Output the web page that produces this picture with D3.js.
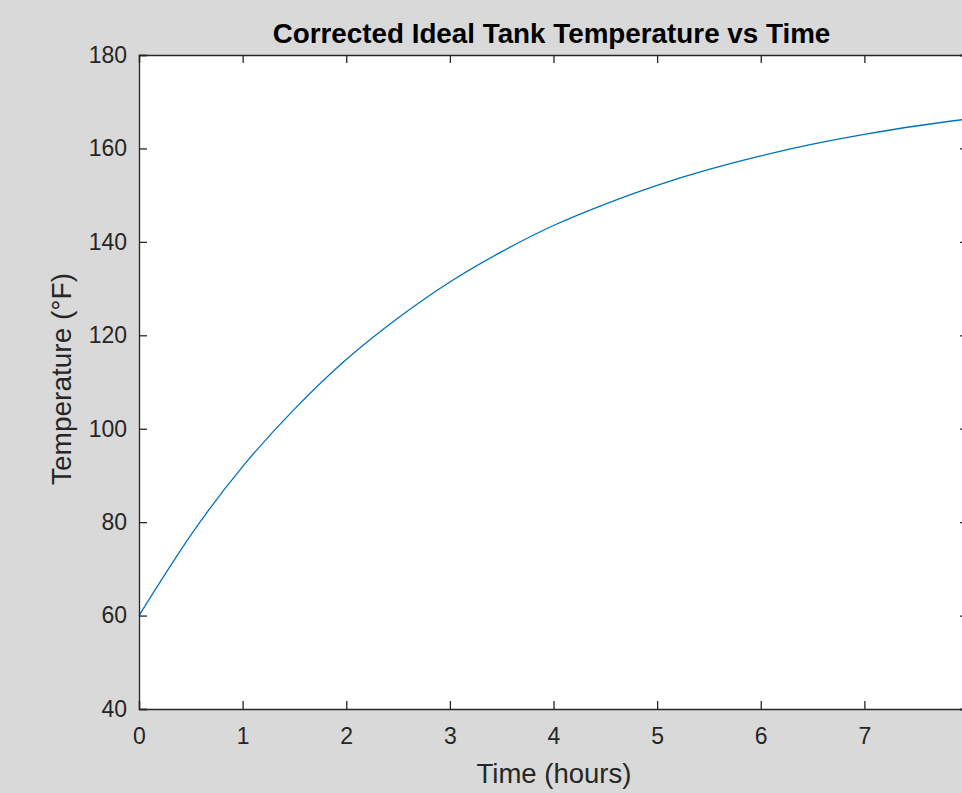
<!DOCTYPE html>
<html><head><meta charset="utf-8">
<script src="https://cdn.jsdelivr.net/npm/d3@7"></script>
<style>html,body{margin:0;padding:0;background:#d9d9d9;overflow:hidden}</style>
</head><body>
<svg id="c" width="962" height="793"></svg>
<script>
// Data (hours, °F)
const timeHours = [0, 0.5, 1, 1.5, 2, 2.5, 3, 3.5, 4, 4.5, 5, 5.5, 6, 6.5, 7, 7.5, 8];
const tempF = [60, 77.2, 91.9, 104.2, 114.8, 123.7, 131.4, 137.9, 143.5, 148.1, 152.1, 155.5, 158.4, 160.9, 163.0, 164.8, 166.3];
const xTicks = [0, 1, 2, 3, 4, 5, 6, 7];
const yTicks = [40, 60, 80, 100, 120, 140, 160, 180];
const titleText = "Corrected Ideal Tank Temperature vs Time";
const xLabelText = "Time (hours)";
const yLabelText = "Temperature (°F)";

const svg = d3.select("#c");
const mLeft = 139, mRight = 968, mTop = 55, mBottom = 709;
const x = d3.scaleLinear().domain([0, 8]).range([mLeft, mRight]);
const y = d3.scaleLinear().domain([40, 180]).range([mBottom, mTop]);
const axisColor = "#262626";
const font = "'Liberation Sans', Arial, Helvetica, sans-serif";

svg.append("rect").attr("width", 962).attr("height", 793).attr("fill", "#d9d9d9");
svg.append("rect").attr("x", mLeft).attr("y", mTop).attr("width", mRight - mLeft).attr("height", mBottom - mTop).attr("fill", "#ffffff");

const data = timeHours.map((t, i) => ({t, v: tempF[i]}));
svg.append("path").datum(data)
  .attr("fill", "none").attr("stroke", "#0072BD").attr("stroke-width", 1.3)
  .attr("d", d3.line().x(d => x(d.t)).y(d => y(d.v)).curve(d3.curveNatural));

const tl = 8;
const gx = svg.append("g").attr("transform", `translate(0,${mBottom})`)
  .call(d3.axisBottom(x).tickValues(xTicks).tickSize(-tl).tickPadding(19).tickFormat(d3.format("d")));
const gxt = svg.append("g").attr("transform", `translate(0,${mTop})`)
  .call(d3.axisTop(x).tickValues(xTicks).tickSize(-tl).tickFormat(""));
const gy = svg.append("g").attr("transform", `translate(${mLeft},0)`)
  .call(d3.axisLeft(y).tickValues(yTicks).tickSize(-tl).tickPadding(12).tickFormat(d3.format("d")));
const gyr = svg.append("g").attr("transform", `translate(${mRight},0)`)
  .call(d3.axisRight(y).tickValues(yTicks).tickSize(-tl).tickFormat(""));

[gx, gxt, gy, gyr].forEach(g => {
  g.select(".domain").attr("stroke", axisColor).attr("stroke-width", 1.3);
  g.selectAll(".tick line").attr("stroke", axisColor).attr("stroke-width", 1.3);
  g.selectAll("text").attr("fill", axisColor).attr("font-family", font).attr("font-size", 23);
});

svg.append("text").attr("x", (mLeft + mRight) / 2 - 2).attr("y", 43)
  .attr("text-anchor", "middle").attr("font-family", font).attr("font-weight", "bold")
  .attr("font-size", 27.8).attr("fill", "#000").text(titleText);

svg.append("text").attr("x", 554).attr("y", 783)
  .attr("text-anchor", "middle").attr("font-family", font)
  .attr("font-size", 27.5).attr("fill", axisColor).text(xLabelText);

svg.append("text").attr("transform", `translate(71,${(mTop + mBottom) / 2 - 3}) rotate(-90)`)
  .attr("text-anchor", "middle").attr("font-family", font)
  .attr("font-size", 28).attr("fill", axisColor).text(yLabelText);
</script>
</body></html>
